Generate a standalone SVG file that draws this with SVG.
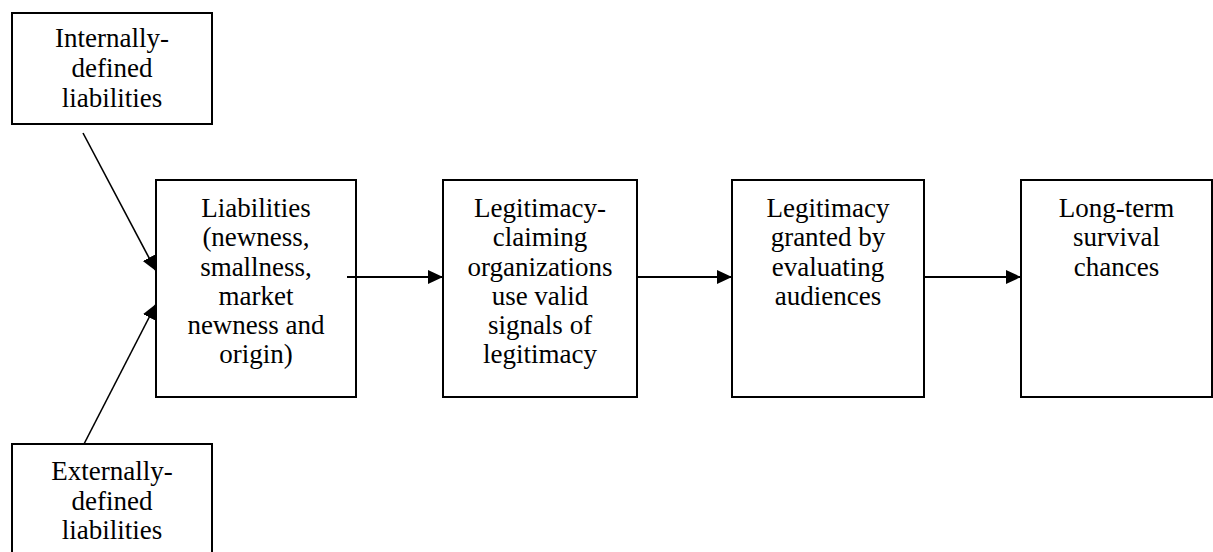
<svg xmlns="http://www.w3.org/2000/svg" width="1213" height="552" viewBox="0 0 1213 552">
  <style>
    .box { fill: #ffffff; stroke: #000000; stroke-width: 2; }
    .lbl { font-family: "Liberation Serif", "Times New Roman", serif; font-size: 27px; fill: #000000; text-anchor: middle; }
    .edge { stroke: #000000; stroke-width: 2; fill: none; }
    .diag { stroke: #000000; stroke-width: 1.6; fill: none; }
  </style>
  <defs>
    <marker id="arrow" markerUnits="userSpaceOnUse" markerWidth="16" markerHeight="16" viewBox="0 0 16 16" refX="15" refY="8" orient="auto">
      <path d="M0,1 L15,8 L0,15 Z" fill="#000000"/>
    </marker>
  </defs>

  <!-- external inputs -->
  <g id="internal">
    <rect class="box" x="12" y="13" width="200" height="111"/>
    <text class="lbl" x="112" y="47">Internally-</text>
    <text class="lbl" x="112" y="77">defined</text>
    <text class="lbl" x="112" y="107">liabilities</text>
  </g>
  <g id="external">
    <rect class="box" x="12" y="444" width="200" height="120"/>
    <text class="lbl" x="112" y="480">Externally-</text>
    <text class="lbl" x="112" y="510">defined</text>
    <text class="lbl" x="112" y="539">liabilities</text>
  </g>

  <!-- main chain -->
  <g id="liabilities">
    <rect class="box" x="156" y="180" width="200" height="217"/>
    <text class="lbl" x="256" y="217">Liabilities</text>
    <text class="lbl" x="256" y="246">(newness,</text>
    <text class="lbl" x="256" y="276">smallness,</text>
    <text class="lbl" x="256" y="305">market</text>
    <text class="lbl" x="256" y="334">newness and</text>
    <text class="lbl" x="256" y="363">origin)</text>
  </g>
  <g id="signals">
    <rect class="box" x="443" y="180" width="194" height="217"/>
    <text class="lbl" x="540" y="217">Legitimacy-</text>
    <text class="lbl" x="540" y="246">claiming</text>
    <text class="lbl" x="540" y="276">organizations</text>
    <text class="lbl" x="540" y="305">use valid</text>
    <text class="lbl" x="540" y="334">signals of</text>
    <text class="lbl" x="540" y="363">legitimacy</text>
  </g>
  <g id="granted">
    <rect class="box" x="732" y="180" width="192" height="217"/>
    <text class="lbl" x="828" y="217">Legitimacy</text>
    <text class="lbl" x="828" y="246">granted by</text>
    <text class="lbl" x="828" y="276">evaluating</text>
    <text class="lbl" x="828" y="305">audiences</text>
  </g>
  <g id="survival">
    <rect class="box" x="1021" y="180" width="191" height="217"/>
    <text class="lbl" x="1116.5" y="217">Long-term</text>
    <text class="lbl" x="1116.5" y="246">survival</text>
    <text class="lbl" x="1116.5" y="276">chances</text>
  </g>

  <!-- connectors -->
  <g id="connectors">
    <line class="diag" x1="83" y1="133" x2="156" y2="271" marker-end="url(#arrow)"/>
    <line class="diag" x1="84" y1="444" x2="156" y2="304" marker-end="url(#arrow)"/>
    <line class="edge" x1="347" y1="277" x2="443" y2="277" marker-end="url(#arrow)"/>
    <line class="edge" x1="637" y1="277" x2="732" y2="277" marker-end="url(#arrow)"/>
    <line class="edge" x1="924" y1="277" x2="1021" y2="277" marker-end="url(#arrow)"/>
  </g>
</svg>
